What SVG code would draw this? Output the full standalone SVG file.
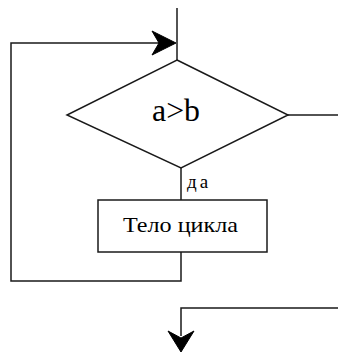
<svg xmlns="http://www.w3.org/2000/svg" width="338" height="354" viewBox="0 0 338 354">
  <style>
    .ln { fill: none; stroke: #1a1a1a; stroke-width: 1.5; }
    .shape { fill: #ffffff; stroke: #1a1a1a; stroke-width: 1.5; }
    .arrow { fill: #000000; stroke: #000000; stroke-width: 1; stroke-linejoin: miter; }
  </style>
  <rect width="338" height="354" fill="#ffffff"/>

  <g id="connectors">
    <!-- entry line from above -->
    <line class="ln" x1="177" y1="8" x2="177" y2="60"/>
    <!-- loop back: body bottom, down, left, up, right into the entry -->
    <polyline class="ln" points="181,252 181,281 11,281 11,43 160,43"/>
    <path class="arrow" d="M176,43 L152,31 L159,43 L152,55 Z"/>
    <!-- "yes" branch from decision into body -->
    <line class="ln" x1="181" y1="168" x2="181" y2="200"/>
    <!-- "no" exit to the right -->
    <line class="ln" x1="288" y1="115" x2="338" y2="115"/>
    <!-- exit coming back below the loop -->
    <polyline class="ln" points="338,308 181,308 181,336"/>
    <path class="arrow" d="M181,352 L168,331 L181,338 L194,331 Z"/>
    <text x="187" y="188" style="font-family:'Liberation Serif',serif" font-size="19" letter-spacing="3" fill="#000">да</text>
  </g>

  <g id="decision">
    <polygon class="shape" points="177,60 288,115 181,168 67,115"/>
    <text x="152" y="121" style="font-family:'Liberation Serif',serif" font-size="31" fill="#000" textLength="48" lengthAdjust="spacingAndGlyphs">a&gt;b</text>
  </g>

  <g id="body">
    <rect class="shape" x="98" y="200" width="169" height="52"/>
    <text x="123" y="232" style="font-family:'Liberation Serif',serif" font-size="22" fill="#000" textLength="115" lengthAdjust="spacingAndGlyphs">Тело цикла</text>
  </g>
</svg>
